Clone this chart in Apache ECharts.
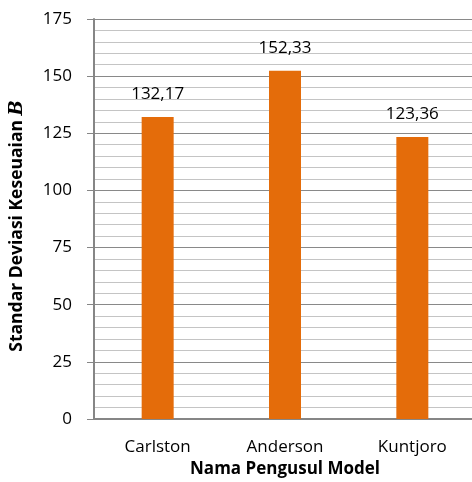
<!DOCTYPE html>
<html>
<head>
  <meta charset="UTF-8">
  <title>Standar Deviasi Keseuaian B</title>
  <style>
    html, body { margin: 0; padding: 0; background: #fff; }
    #chart { width: 472px; height: 482px; }
  </style>
  <script src="https://cdn.jsdelivr.net/npm/echarts@6/dist/echarts.min.js"></script>
</head>
<body>
  <div id="chart"></div>
  <script>
    var categories = ['Carlston', 'Anderson', 'Kuntjoro'];
    var values = [132.17, 152.33, 123.36];

    var myChart = echarts.init(document.getElementById('chart'));

    var font = '"Open Sans", Lato, sans-serif';

    var option = {
      animation: false,
      grid: {
        left: 94,
        top: 19,
        width: 382,
        height: 400,
        outerBoundsMode: 'none',
        containLabel: false
      },
      xAxis: {
        type: 'category',
        data: categories,
        name: 'Nama Pengusul Model',
        nameLocation: 'middle',
        nameGap: 42,
        nameTextStyle: { fontFamily: font, fontSize: 17, fontWeight: 'bold', color: '#000' },
        axisLine: { lineStyle: { color: '#868686', width: 2 } },
        axisTick: { show: false },
        axisLabel: { fontFamily: font, fontSize: 17, color: '#000', margin: 20 }
      },
      yAxis: {
        type: 'value',
        min: 0,
        max: 175,
        interval: 25,
        name: '{t|Standar Deviasi Keseuaian }{b|B}',
        nameLocation: 'middle',
        nameGap: 68,
        nameTextStyle: {
          padding: [0, 14, 0, 0],
          rich: {
            t: { fontFamily: font, fontSize: 17.5, fontWeight: 'bold', color: '#000' },
            b: { fontFamily: '"DejaVu Serif", "Liberation Serif", serif', fontSize: 18, fontWeight: 'bold', fontStyle: 'italic', color: '#000' }
          }
        },
        axisLine: { show: true, lineStyle: { color: '#868686', width: 2 } },
        axisTick: { show: true, inside: false, length: 7, lineStyle: { color: '#868686' } },
        axisLabel: { fontFamily: font, fontSize: 17, color: '#000', margin: 22 },
        splitLine: { show: true, lineStyle: { color: '#898989', width: 1 } },
        minorTick: { show: false, splitNumber: 5 },
        minorSplitLine: { show: true, lineStyle: { color: '#c4c4c4', width: 1 } }
      },
      series: [{
        type: 'bar',
        data: values,
        barWidth: 32,
        itemStyle: { color: '#E46C0A' },
        label: {
          show: true,
          position: 'top',
          distance: 14,
          fontFamily: font,
          fontSize: 17,
          color: '#000',
          formatter: function (p) { return p.value.toFixed(2).replace('.', ','); }
        }
      }]
    };

    myChart.setOption(option);
  </script>
</body>
</html>
